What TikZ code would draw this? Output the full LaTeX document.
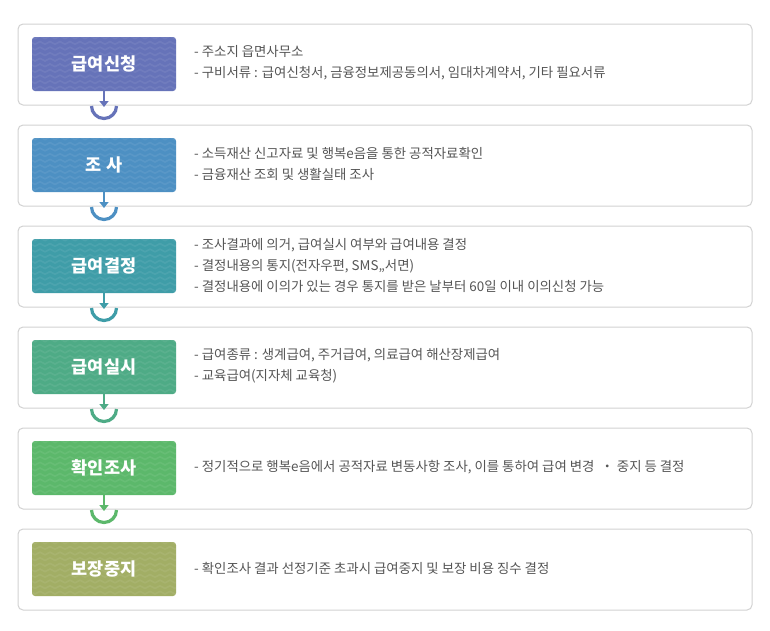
\documentclass[tikz,border=0pt]{standalone}
\usepackage{fontspec}
\setmainfont{Noto Sans CJK KR}
\usetikzlibrary{arrows.meta}
\definecolor{cA}{HTML}{6673B9}
\definecolor{cB}{HTML}{4D90C3}
\definecolor{cC}{HTML}{3F9DA8}
\definecolor{cD}{HTML}{4EAB86}
\definecolor{cE}{HTML}{5CB86B}
\definecolor{cF}{HTML}{A2AE65}
\definecolor{panelline}{HTML}{D2D2D2}
\definecolor{bodytext}{HTML}{555555}
\tikzset{
  panel/.style={draw=panelline, line width=1pt, fill=white, rounded corners=5pt},
  stepbox/.style={rounded corners=3pt, minimum width=144pt, minimum height=54pt, inner sep=0pt},
  steplabel/.style={text=white, font=\fontsize{17.5}{19}\selectfont\bfseries},
  desc/.style={anchor=west, align=left, inner sep=0pt, text=bodytext,
     font=\fontsize{13.4}{21}\selectfont},
  stem/.style={line width=2.6pt, -{Triangle[width=9pt,length=6pt]}},
  cup/.style={line width=3.2pt}
}
\newcommand{\zigfill}[1]{% #1 = top y
  \begin{scope}
    \clip[rounded corners=3pt] (32,#1) rectangle (176,#1-54);
    \foreach \r in {0,...,10} {
      \draw[white, opacity=0.07, line width=1.6pt]
        (30,#1+1-\r*5.6) \foreach \k in {0,...,15} { -- ++(5,-2.6) -- ++(5,2.6) };
    }
  \end{scope}}
\begin{document}
\begin{tikzpicture}[x=1pt,y=1pt]
\useasboundingbox[fill=white] (0,0) rectangle (770,-630);
% panels
\foreach \i in {0,...,5} {
  \draw[panel] (18,-24-101*\i) rectangle (752,-105-101*\i);
}
% step boxes
\node[stepbox, fill=cA] (s1) at (104,-64) {};
\zigfill{-37}
\node[stepbox, fill=cB] (s2) at (104,-165) {};
\zigfill{-138}
\node[stepbox, fill=cC] (s3) at (104,-266) {};
\zigfill{-239}
\node[stepbox, fill=cD] (s4) at (104,-367) {};
\zigfill{-340}
\node[stepbox, fill=cE] (s5) at (104,-468) {};
\zigfill{-441}
\node[stepbox, fill=cF] (s6) at (104,-569) {};
\zigfill{-542}
% labels above pattern
\node[steplabel] (l1) at (s1) {급여신청};
\node[steplabel] (l2) at (s2) {조 사};
\node[steplabel] (l3) at (s3) {급여결정};
\node[steplabel] (l4) at (s4) {급여실시};
\node[steplabel] (l5) at (s5) {확인조사};
\node[steplabel] (l6) at (s6) {보장중지};
% descriptions
\node[desc] (d1) at (194,-63) {- 주소지 읍면사무소\\- 구비서류 : 급여신청서, 금융정보제공동의서, 임대차계약서, 기타 필요서류};
\node[desc] (d2) at (194,-164) {- 소득재산 신고자료 및 행복e음을 통한 공적자료확인\\- 금융재산 조회 및 생활실태 조사};
\node[desc] (d3) at (194,-265) {- 조사결과에 의거, 급여실시 여부와 급여내용 결정\\- 결정내용의 통지(전자우편, SMS,,서면)\\- 결정내용에 이의가 있는 경우 통지를 받은 날부터 60일 이내 이의신청 가능};
\node[desc] (d4) at (194,-366) {- 급여종류 : 생계급여, 주거급여, 의료급여 해산장제급여\\- 교육급여(지자체 교육청)};
\node[desc] (d5) at (194,-467) {- 정기적으로 행복e음에서 공적자료 변동사항 조사, 이를 통하여 급여 변경 \ ・ 중지 등 결정};
\node[desc] (d6) at (194,-568) {- 확인조사 결과 선정기준 초과시 급여중지 및 보장 비용 징수 결정};
% connectors
\foreach \n/\c [count=\i from 0] in {s1/cA, s2/cB, s3/cC, s4/cD, s5/cE} {
  \coordinate (t\i) at (104,-107-101*\i);
  \draw[stem, draw=\c, fill=\c] (\n.south) -- (t\i);
  \draw[cup, draw=\c] (91.5,-106-101*\i) arc[start angle=180, end angle=360, radius=12.5];
}
\end{tikzpicture}
\end{document}
